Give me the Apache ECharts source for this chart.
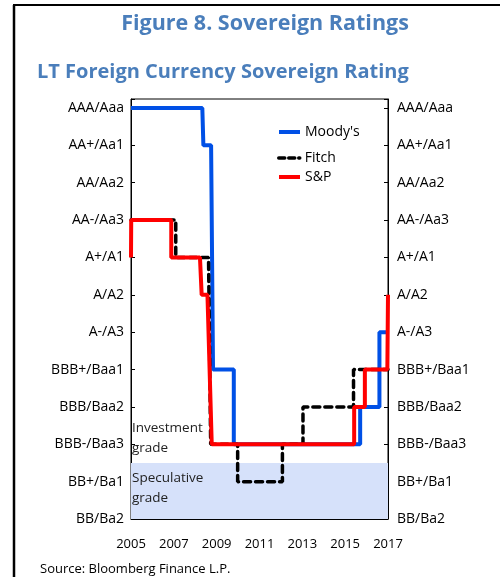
<!DOCTYPE html>
<html><head><meta charset="utf-8">
<script src="https://cdn.jsdelivr.net/npm/echarts@6/dist/echarts.min.js"></script>
<style>html,body{margin:0;padding:0;background:#fff}#c{width:500px;height:577px}</style>
</head><body><div id="c"></div>
<script>
// Rating scale, bottom (0) to top (11)
const ratingLabels = ['BB/Ba2','BB+/Ba1','BBB-/Baa3','BBB/Baa2','BBB+/Baa1','A-/A3','A/A2','A+/A1','AA-/Aa3','AA/Aa2','AA+/Aa1','AAA/Aaa'];
const yearTicks = [2005, 2007, 2009, 2011, 2013, 2015, 2017];
// [year, rating level]
const moodys = [[2005,11],[2008.33,11],[2008.38,10],[2008.74,10],[2008.83,4],[2009.8,4],[2009.8,2],[2015.7,2],[2015.7,3],[2016.6,3],[2016.6,5],[2017,5]];
const fitch = [[2005,8],[2007.09,8],[2007.09,7],[2008.62,7],[2008.72,2],[2009.98,2],[2009.98,1],[2012.07,1],[2012.07,2],[2013.03,2],[2013.03,3],[2015.39,3],[2015.39,4],[2017,4]];
const sp = [[2005,7],[2005.01,8],[2006.88,8],[2006.88,7],[2008.22,7],[2008.3,6],[2008.57,6],[2008.77,2],[2015.42,2],[2015.42,3],[2015.92,3],[2015.92,4],[2016.97,4],[2017,6]];
const speculativeBand = [0, 1.5];
const investmentBand = [1.5, 3];

const FONT = 'Open Sans';
const chart = echarts.init(document.getElementById('c'));
const yAxisCommon = {
  type: 'value', min: 0, max: 11.24, interval: 1,
  axisLine: {show: true, lineStyle: {color: '#000', width: 1}},
  axisTick: {show: true, inside: true, length: 4, lineStyle: {color: '#000'}},
  splitLine: {show: false},
  axisLabel: {fontFamily: FONT, fontSize: 14, color: '#000',
    formatter: v => (Number.isInteger(v) && ratingLabels[v]) ? ratingLabels[v] : ''}
};
chart.setOption({
  animation: false,
  title: [
    {text: 'Figure 8. Sovereign Ratings', left: 260, top: 8, textAlign: 'center',
     textStyle: {fontFamily: FONT, fontSize: 21.5, fontWeight: 'bold', color: '#4A7EBB'}},
    {text: 'LT Foreign Currency Sovereign Rating', left: 32, top: 57,
     textStyle: {fontFamily: FONT, fontSize: 20, fontWeight: 'bold', color: '#4A7EBB'}},
    {text: 'Source: Bloomberg Finance L.P.', left: 35, top: 558,
     textStyle: {fontFamily: FONT, fontSize: 13, fontWeight: 'normal', color: '#000'}}
  ],
  graphic: [
    {type: 'line', shape: {x1: 14, y1: 5, x2: 14, y2: 577}, style: {stroke: '#000', lineWidth: 2.5}},
    {type: 'line', shape: {x1: 13, y1: 5, x2: 500, y2: 5}, style: {stroke: '#000', lineWidth: 2}}
  ],
  grid: {left: 131, right: 112, top: 99, bottom: 58, show: true, borderColor: '#000', borderWidth: 1, backgroundColor: 'transparent'},
  legend: [
    {data: ["Moody's"], left: 277, top: 125, lineStyle: {width: 4}},
    {data: ['Fitch'], left: 277, top: 151, lineStyle: {width: 3.5, type: [6, 4]}},
    {data: ['S&P'], left: 277, top: 170, lineStyle: {width: 4}}
  ].map(l => Object.assign(l, {orient: 'vertical', padding: 0, itemWidth: 21, itemHeight: 14,
     itemStyle: {opacity: 0},
     textStyle: {fontFamily: FONT, fontSize: 14, color: '#000'}})),
  xAxis: {
    type: 'value', min: 2005, max: 2017, interval: 2,
    axisLine: {show: true, lineStyle: {color: '#000'}},
    axisTick: {show: true, inside: true, length: 4, lineStyle: {color: '#000'}},
    splitLine: {show: false},
    axisLabel: {fontFamily: FONT, fontSize: 13, color: '#000', margin: 19,
      formatter: v => yearTicks.includes(v) ? String(v) : ''}
  },
  yAxis: [
    Object.assign({}, yAxisCommon, {position: 'left', axisLabel: Object.assign({}, yAxisCommon.axisLabel, {margin: 7})}),
    Object.assign({}, yAxisCommon, {position: 'right', axisLabel: Object.assign({}, yAxisCommon.axisLabel, {margin: 9})})
  ],
  series: [
    {name: "Moody's", type: 'line', data: moodys, symbol: 'none', z: 2,
     lineStyle: {color: '#0050E6', width: 4}, itemStyle: {color: '#0050E6'},
     markArea: {silent: true, data: [
       [{yAxis: speculativeBand[0], xAxis: 'min', itemStyle: {color: '#D6E1FA'},
         label: {show: true, position: 'insideTopLeft', offset: [-4, 0], formatter: 'Speculative\ngrade', fontFamily: FONT, fontSize: 13.5, color: '#222', lineHeight: 20}},
        {yAxis: speculativeBand[1], xAxis: 'max'}],
       [{yAxis: investmentBand[0], xAxis: 'min', itemStyle: {color: 'rgba(0,0,0,0)'},
         label: {show: true, position: 'insideBottomLeft', offset: [-4, 0], formatter: 'Investment\ngrade', fontFamily: FONT, fontSize: 13.5, color: '#222', lineHeight: 20}},
        {yAxis: investmentBand[1], xAxis: 'max'}]
     ]}},
    {name: 'Fitch', type: 'line', data: fitch, symbol: 'none', z: 3,
     lineStyle: {color: '#000', width: 3.5, type: [7, 5], cap: 'round'}, itemStyle: {color: '#000'}},
    {name: 'S&P', type: 'line', data: sp, symbol: 'none', z: 4,
     lineStyle: {color: '#FF0000', width: 4}, itemStyle: {color: '#FF0000'}}
  ]
});
</script></body></html>
